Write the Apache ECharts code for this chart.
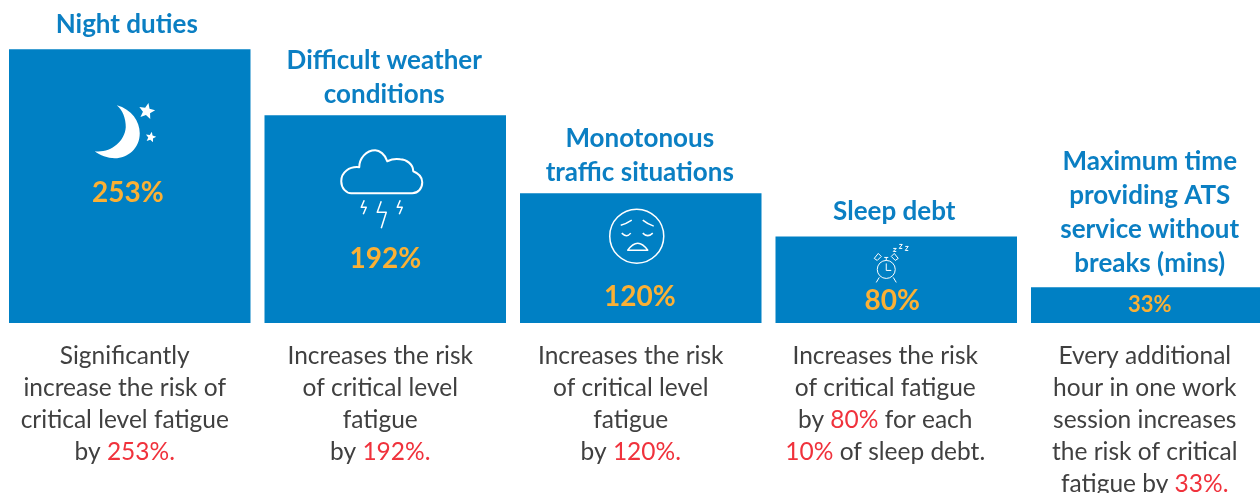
<!DOCTYPE html>
<html>
<head>
<meta charset="utf-8">
<style>
  html, body { margin: 0; padding: 0; background: #fff; overflow: hidden; }
  #chart { width: 1260px; height: 493px; }
</style>
<script src="https://cdn.jsdelivr.net/npm/echarts@6/dist/echarts.min.js"></script>
</head>
<body>
<div id="chart"></div>
<script>
const categories = [
  "Night duties",
  "Difficult weather\nconditions",
  "Monotonous\ntraffic situations",
  "Sleep debt",
  "Maximum time\nproviding ATS\nservice without\nbreaks (mins)"
];
const values = [253, 192, 120, 80, 33];
const descriptions = [
  "Significantly\nincrease the risk of\ncritical level fatigue\nby {r|253%.}",
  "Increases the risk\nof critical level\nfatigue\nby {r|192%.}",
  "Increases the risk\nof critical level\nfatigue\nby {r|120%.}",
  "Increases the risk\nof critical fatigue\nby {r|80%} for each\n{r|10%} of sleep debt.",
  "Every additional\nhour in one work\nsession increases\nthe risk of critical\nfatigue by {r|33%.}"
];

const BLUE = "#0080c4";
const AMBER = "#fbb034";
const RED = "#f0323c";
const FONT = "Lato, Carlito, 'Noto Sans', sans-serif";

// 标注位置，相对柱子顶部中心
const titleOffset = [[-3, -1], [-1, 3], [-1, 3], [-2, -1], [-2, 0]];
const valueOffset = [[-2, 144], [0, 144], [-1, 104], [-4, 65], [-2, 18]];
const valueFontSize = [28, 28, 28, 28, 22];
const descOffsetX = [-5, -5, -10, -11, -7];
const iconOffset = [[-12, 81], [-3, 56], [-4, 43], [-10, 33], null];

function star(cx, cy, r) {
  let d = "";
  for (let i = 0; i < 10; i++) {
    const a = -Math.PI / 2 + 0.2 + (i * Math.PI) / 5;
    const rr = i % 2 ? r * 0.45 : r;
    d += (i ? "L" : "M") + (cx + rr * Math.cos(a)).toFixed(1) + "," + (cy + rr * Math.sin(a)).toFixed(1);
  }
  return d + "Z";
}

const icons = [
  // 月亮
  [{
    fill: "#fff",
    d: "M-1,-25 C14,-21 22,-9 22,3 C22,18 10,28 -3,28 C-10,28 -18,25 -23,21 C-8,23 7,12 8,-3 C8,-12 5,-20 -1,-25Z" +
      star(29, -19, 8.5) + star(33, 7, 5.5)
  }],
  // 云和闪电
  [{
    width: 2,
    d: "M-31,22 L30,22 C36,22 40,17 40,11 C40,5 36,2 31,0 C31,-7 24,-12 18,-12 C13,-13 9,-12 5,-10 C3,-17 -3,-21 -7,-21 C-16,-21 -23,-13 -23,-4 C-33,-5 -41,1 -41,10 C-41,17 -36,22 -31,22Z"
  }, {
    width: 1.5,
    d: "M-18,29 L-21,36 L-16,36 L-19,43 M-1,30 L-5,41 L4,41 L-1,57 M18,29 L15,36 L20,36 L17,43"
  }],
  // 表情
  [{
    width: 1.5,
    d: "M27,0 A27,27 0 1,1 -27,0 A27,27 0 1,1 27,0Z" +
      "M-16,-11 Q-11,-12 -5,-16 M6,-16 Q11,-12 17,-10" +
      "M-15,-3 Q-10,2 -6,-3 M6,-3 Q11,2 16,-3" +
      "M-9,14 Q1,0 11,14Z"
  }],
  // 闹钟
  [{
    width: 1,
    d: "M9,0 A9,9 0 1,1 -9,0 A9,9 0 1,1 9,0Z" +
      "M0,-6 L0,1 L5,1 M-7,8 L-10,13 M7,8 L10,13 M0,-9 L0,-12 M-2,-12 L2,-12" +
      "M-12,-11 L-8,-16 L-5,-13 L-9,-9Z M12,-11 L8,-16 L5,-13 L9,-9Z" +
      "M7,-21 L10,-21 L7,-18 L10,-18 M13,-25 L16,-25 L13,-21 L16,-21 M19,-23 L22,-23 L19,-19 L22,-19"
  }],
  []
];

const chart = echarts.init(document.getElementById("chart"), null, { renderer: "canvas" });

function renderOverlay(params, api) {
  const i = params.dataIndex;
  const top = api.coord([i, api.value(1)]);
  const base = api.coord([i, 0]);
  const children = [];

  if (iconOffset[i]) {
    icons[i].forEach(function (p) {
      children.push({
        type: "path",
        x: top[0] + iconOffset[i][0],
        y: top[1] + iconOffset[i][1],
        shape: { pathData: p.d },
        style: p.fill
          ? { fill: p.fill, stroke: null }
          : { fill: null, stroke: "#fff", lineWidth: p.width, lineJoin: "round" }
      });
    });
  }

  children.push({
    type: "text",
    x: top[0] + valueOffset[i][0],
    y: top[1] + valueOffset[i][1],
    style: {
      text: values[i] + "%",
      fill: AMBER,
      font: "bold " + valueFontSize[i] + "px " + FONT,
      align: "center",
      verticalAlign: "middle"
    }
  });

  children.push({
    type: "text",
    x: base[0] + descOffsetX[i],
    y: base[1] + 17,
    style: {
      text: descriptions[i],
      fill: "#404040",
      font: "24.5px " + FONT,
      lineHeight: 32,
      align: "center",
      verticalAlign: "top",
      rich: {
        r: { fill: RED, font: "24.5px " + FONT, lineHeight: 32 }
      }
    }
  });

  return { type: "group", children: children };
}

chart.setOption({
  animation: false,
  backgroundColor: "#fff",
  grid: { left: 2, top: 0, width: 1277.5, height: 323, outerBoundsMode: "none" },
  xAxis: {
    type: "category",
    data: categories,
    axisLine: { show: false },
    axisTick: { show: false },
    axisLabel: { show: false }
  },
  yAxis: { type: "value", min: 0, max: 298.5, show: false, splitLine: { show: false } },
  series: [
    {
      type: "bar",
      data: values.map(function (v, i) {
        return { value: v, label: { offset: titleOffset[i] } };
      }),
      barWidth: 241.5,
      itemStyle: { color: BLUE },
      label: {
        show: true,
        position: "top",
        distance: 7,
        formatter: function (p) { return categories[p.dataIndex]; },
        color: "#0b7fc3",
        fontFamily: FONT,
        fontWeight: "bold",
        fontSize: 26,
        lineHeight: 34,
        align: "center"
      }
    },
    {
      type: "custom",
      coordinateSystem: "cartesian2d",
      data: values.map(function (v, i) { return [i, v]; }),
      renderItem: renderOverlay,
      silent: true,
      z: 5
    }
  ]
});
</script>
</body>
</html>
